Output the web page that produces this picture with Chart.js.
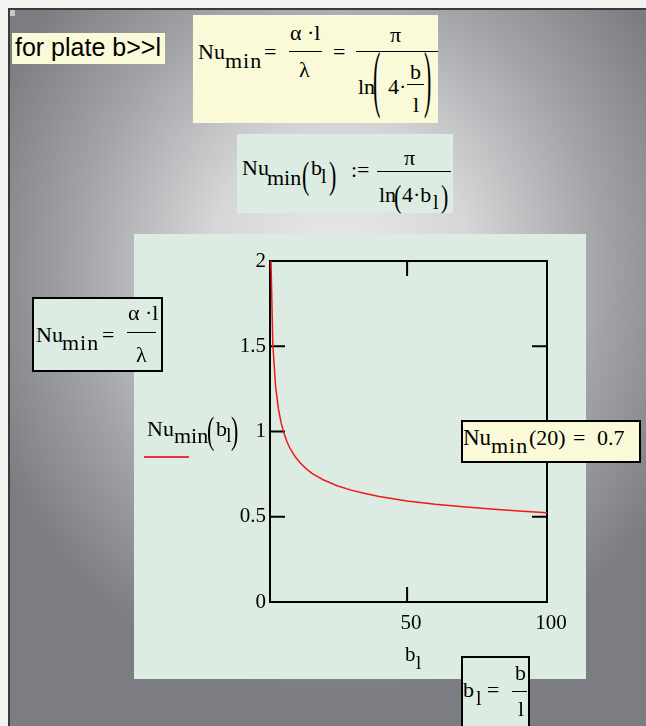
<!DOCTYPE html>
<html>
<head>
<meta charset="utf-8">
<script src="https://cdn.jsdelivr.net/npm/chart.js@4"></script>
<style>
  html, body { margin: 0; padding: 0; }
  body { width: 646px; height: 726px; position: relative; overflow: hidden; background: #f2f2f2; }
  .sheet {
    position: absolute; left: 8px; top: 8px; width: 638px; height: 718px;
    border-left: 2px solid #3a3a3a; border-top: 2px solid #3a3a3a;
    background: radial-gradient(ellipse 380px 420px at 330px 265px, #ececec 0%, #d6d6d8 35%, #a2a3a7 70%, #7c7d82 100%);
  }
  .box { position: absolute; box-sizing: border-box; }
  .yellow { background: #fafad8; }
  .green { background: #dcece2; }
  .framed { border: 2px solid #000; }
  .rule { position: absolute; height: 1px; background: #000; }
  #plot { position: absolute; left: 134px; top: 234px; }
</style>
</head>
<body>
<div class="sheet"></div>
<div class="box" style="left:10px;top:10px;width:5px;height:6px;background:#c8c8cc"></div>

<div class="box yellow" style="left:12px;top:33px;width:153px;height:31px"></div>
<div class="box yellow" style="left:193px;top:15px;width:245px;height:108px"></div>
<div class="box green" style="left:237px;top:134px;width:216px;height:79px"></div>
<div class="box green" style="left:134px;top:234px;width:452px;height:445px"></div>

<canvas id="plot" width="452" height="444"></canvas>

<div class="box green framed" style="left:32px;top:297px;width:131px;height:75px"></div>
<div class="box yellow framed" style="left:461px;top:420px;width:180px;height:43px"></div>
<div class="box green framed" style="left:461px;top:656px;width:69px;height:76px"></div>

<script>
// Nu_min(b_l), b_l from 1 to 100
const bValues = [1, 2, 3, 4, 5, 6, 7, 8, 9, 10, 12, 14, 16, 18, 20, 25, 30, 35, 40, 50, 60, 70, 80, 90, 100];
const nuValues = [2.266, 1.511, 1.264, 1.133, 1.049, 0.989, 0.943, 0.906, 0.877, 0.852, 0.812, 0.781, 0.755,
                  0.735, 0.717, 0.682, 0.656, 0.636, 0.619, 0.593, 0.573, 0.558, 0.545, 0.534, 0.524];
const xTicks = [50, 100];
const yTicks = [0, 0.5, 1, 1.5, 2];

const serif = '"Liberation Serif", "Times New Roman", serif';
const sans = '"Liberation Sans", Arial, sans-serif';

// text placed by its baseline
function txt(str, x, base, size, fam, spacing) {
  const s = document.createElement('span');
  s.textContent = str;
  s.style.cssText = 'position:absolute;white-space:pre;color:#000;left:' + x + 'px;top:' + (base - 0.84 * size) +
    'px;font:' + size + 'px/' + size + 'px ' + (fam || serif) + ';letter-spacing:' + (spacing || 0) + 'px';
  document.body.appendChild(s);
}
function rule(x1, x2, y) {
  const d = document.createElement('div');
  d.className = 'rule';
  d.style.left = x1 + 'px'; d.style.top = y + 'px'; d.style.width = (x2 - x1) + 'px';
  document.body.appendChild(d);
}
// tall bracket, stretched to span top..top+h
function paren(ch, x, top, h, size) {
  size = size || 22;
  const gTop = 0.84 * size - 0.69 * size;
  const gH = 0.87 * size;
  const s = document.createElement('span');
  s.textContent = ch;
  s.style.cssText = 'position:absolute;color:#000;left:' + x + 'px;top:' + (top - gTop) + 'px;font:' + size + 'px/' + size +
    'px ' + serif + ';transform-origin:0 ' + gTop + 'px;transform:scaleY(' + (h / gH) + ')';
  document.body.appendChild(s);
}

// header notes
txt('for plate b>>l', 15, 56, 25, sans);

txt('Nu', 198, 59, 22); txt('min', 225, 68, 22, null, 1); txt('=', 264, 59, 22);
txt('\u03b1 \u00b7l', 290, 40, 22); rule(289, 322, 51); txt('\u03bb', 299, 77, 22);
txt('=', 333, 59, 22);
txt('\u03c0', 390, 42, 22); rule(356, 438, 51);
txt('ln', 358, 94, 22); paren('(', 373, 54, 64); txt('4\u00b7', 388, 94, 22);
txt('b', 410, 79, 22); rule(407, 424, 84); txt('l', 413, 112, 22); paren(')', 424, 54, 64);

txt('Nu', 242, 175, 22); txt('min', 267, 185, 22); paren('(', 302, 162, 33);
txt('b', 311, 175, 22); txt('l', 321, 183, 20); paren(')', 329, 162, 33);
txt(':=', 351, 177, 22);
txt('\u03c0', 404, 165, 22); rule(377, 451, 171);
txt('ln', 379, 202, 22); paren('(', 394, 186, 27); txt('4\u00b7b', 402, 202, 22); txt('l', 433, 209, 20); paren(')', 441, 186, 27);

// definition on the left
txt('Nu', 36, 342, 22); txt('min', 62, 350, 22, null, 1); txt('=', 102, 342, 22);
txt('\u03b1 \u00b7l', 128, 320, 22); rule(127, 156, 332); txt('\u03bb', 136, 362, 22);

// trace label and its line sample
txt('Nu', 147, 436, 22); txt('min', 174, 443, 22); paren('(', 207, 417, 33);
txt('b', 216, 436, 22); txt('l', 226, 442, 20); paren(')', 231, 417, 33);
const sample = document.createElement('div');
sample.style.cssText = 'position:absolute;left:144px;top:456px;width:45px;height:1.5px;background:#f03030';
document.body.appendChild(sample);

// evaluated value
txt('Nu', 463, 445, 23); txt('min', 491, 453, 22, null, 1); txt('(20)', 529, 445, 22); txt('=', 573, 445, 22); txt('0.7', 597, 445, 22);

// b_l definition
txt('b', 463, 697, 22); txt('l', 476, 705, 20); txt('=', 487, 697, 22);
txt('b', 515, 680, 22); rule(512, 527, 691); txt('l', 518, 716, 22);

// axis title
txt('b', 405, 662, 21); txt('l', 416, 669, 19);

// box with inward ticks on all four sides, drawn under the trace
const frame = {
  id: 'frame',
  beforeDatasetsDraw(chart) {
    const ctx = chart.ctx, a = chart.chartArea, x = chart.scales.x, y = chart.scales.y;
    ctx.save();
    ctx.strokeStyle = '#000';
    ctx.lineWidth = 2;
    ctx.strokeRect(a.left, a.top, a.right - a.left, a.bottom - a.top);
    ctx.beginPath();
    yTicks.forEach(function(v) {
      const py = y.getPixelForValue(v);
      ctx.moveTo(a.left, py); ctx.lineTo(a.left + 15, py);
      ctx.moveTo(a.right, py); ctx.lineTo(a.right - 15, py);
    });
    xTicks.forEach(function(v) {
      const px = x.getPixelForValue(v);
      ctx.moveTo(px, a.top); ctx.lineTo(px, a.top + 15);
      ctx.moveTo(px, a.bottom); ctx.lineTo(px, a.bottom - 15);
    });
    ctx.stroke();
    ctx.restore();
  }
};

new Chart('plot', {
  type: 'scatter',
  data: {
    datasets: [{
      data: bValues.map(function(b, i) { return { x: b, y: nuValues[i] }; }),
      showLine: true,
      borderColor: '#f01818',
      borderWidth: 1.5,
      pointRadius: 0,
      tension: 0
    }]
  },
  options: {
    responsive: false,
    devicePixelRatio: 1,
    animation: false,
    events: [],
    layout: { padding: { left: 0, top: 27, right: 39, bottom: 36 } },
    plugins: { legend: { display: false }, tooltip: { enabled: false } },
    scales: {
      x: {
        type: 'linear', min: 1, max: 100,
        afterFit: function(s) { s.height = 40; },
        afterBuildTicks: function(s) { s.ticks = xTicks.map(function(v) { return { value: v }; }); },
        grid: { display: false, drawTicks: false },
        border: { display: false },
        ticks: { color: '#000', font: { family: serif, size: 21 }, padding: 9, labelOffset: 4, maxRotation: 0,
                 callback: function(v) { return String(v); } }
      },
      y: {
        min: 0, max: 2,
        afterFit: function(s) { s.width = 136; },
        afterBuildTicks: function(s) { s.ticks = yTicks.map(function(v) { return { value: v }; }); },
        grid: { display: false, drawTicks: false },
        border: { display: false },
        ticks: { color: '#000', font: { family: serif, size: 21 }, padding: 4,
                 callback: function(v) { return String(v); } }
      }
    }
  },
  plugins: [frame]
});
</script>
</body>
</html>
